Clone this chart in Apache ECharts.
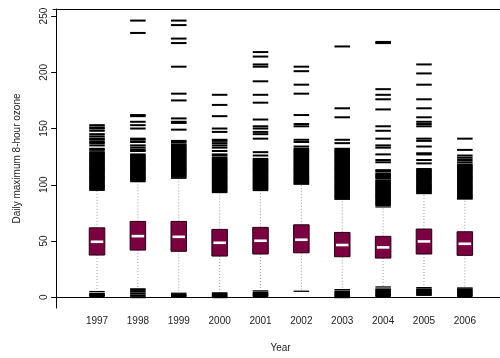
<!DOCTYPE html>
<html>
<head>
<meta charset="utf-8">
<script src="https://cdn.jsdelivr.net/npm/echarts/dist/echarts.min.js"></script>
<style>
  html, body { margin: 0; padding: 0; background: #fff; }
  #chart { width: 500px; height: 358px; }
</style>
</head>
<body>
<div id="chart"></div>
<script>
// Yearly distribution of daily maximum 8-hour ozone
const years = ['1997', '1998', '1999', '2000', '2001', '2002', '2003', '2004', '2005', '2006'];
const q1 = [37.5, 41.9, 40.8, 36.6, 38.4, 39.5, 36.0, 34.8, 38.4, 37.2];
const median = [49.3, 54.3, 53.7, 48.4, 50.2, 51.1, 46.4, 44.3, 49.6, 47.5];
const q3 = [61.7, 67.4, 67.4, 60.3, 62.1, 64.4, 57.6, 54.1, 60.6, 58.2];
const whiskerLow = [5.0, 7.4, 3.5, 3.8, 5.6, 5.3, 6.7, 9.1, 8.5, 8.2];
const whiskerHigh = [95.1, 102.8, 105.8, 93.1, 94.9, 100.7, 87.1, 80.3, 92.2, 87.4];

// Outlying days above the upper whisker, per year
const highOutliers = [
  [153,151,150,148,145,143,141,140,138,137,135,132,131,129,128,127,126,125,124,123,122,121,120,119,118,117,116,115,114,113,112,111,110,109,108,107,106,105,104,103,102,101,100,99,98,97,96],
  [246,235,162,161,156,153,150,141,140,138,135,133,131,130,127,126,125,124,123,122,121,120,119,118,117,116,115,114,113,112,111,110,109,108,107,106,105,104],
  [246,242,230,226,205,181,175,159,156,155,149,139,138,136,135,134,133,132,131,130,129,128,127,126,125,124,123,122,121,120,119,118,117,116,115,114,113,112,111,110,109,108,107],
  [180,171,161,150,147,140,139,137,135,133,130,127,126,124,123,122,121,120,119,118,117,116,115,114,113,112,111,110,109,108,107,106,105,104,103,102,101,100,99,98,97,96,95,94],
  [218,214,207,205,192,180,173,158,152,150,147,145,141,129,126,123,122,121,120,119,118,117,116,115,114,113,112,111,110,109,108,107,106,105,104,103,102,101,100,99,98,97,96],
  [205,201,189,181,162,154,152,140,138,134,132,131,130,129,128,127,126,125,124,123,122,121,120,119,118,117,116,115,114,113,112,111,110,109,108,107,106,105,104,103,102,101],
  [223,168,160,140,137,132,131,130,129,128,127,126,125,124,123,122,121,120,119,118,117,116,115,114,113,112,111,110,109,108,107,106,105,104,103,102,101,100,99,98,97,96,95,94,93,92,91,90,89,88],
  [227,226,185,180,176,167,152,148,141,135,133,127,122,120,113,112,110,109,108,107,106,104,103,102,101,100,99,98,97,96,95,94,93,92,91,90,89,88,87,86,85,84,83,82],
  [207,199,189,176,168,160,156,154,152,141,139,134,128,127,122,119,114,113,112,111,110,109,108,107,106,105,104,103,102,101,100,99,98,97,96,95,94,93],
  [141,131,126,124,122,120,118,117,116,115,114,113,112,111,110,109,108,107,106,105,104,103,102,101,100,99,98,97,96,95,94,93,92,91,90,89,88]
];
// Outlying days below the lower whisker, per year
const lowOutliers = [
  [3, 2, 1],
  [6.5, 5, 3.2, 1.4, 0],
  [2, 1],
  [3, 2, 1, 0],
  [4, 3, 2, 1],
  [],
  [5, 4, 3, 2, 1, 0],
  [7, 6, 5, 4, 3, 2, 1],
  [7, 6, 5, 4, 3, 2],
  [7, 6, 5, 4, 3, 2, 1]
];
const yTicks = [0, 50, 100, 150, 200, 250];
const yearPositions = [1, 2, 3, 4, 5, 6, 7, 8, 9, 10];

const boxData = years.map((y, i) => [yearPositions[i], q1[i], median[i], q3[i], whiskerLow[i], whiskerHigh[i]]);
const outlierData = [];
years.forEach((y, i) => {
  highOutliers[i].forEach(v => outlierData.push([yearPositions[i], v]));
  lowOutliers[i].forEach(v => outlierData.push([yearPositions[i], v]));
});

const BOX_HALF = 0.19; // half box width in x units
const FONT = '"Liberation Sans", Arial, Helvetica, sans-serif';
const X_MIN = -0.077, X_MAX = 10.86; // plot frame runs past the right edge of the canvas

function halfWidthPx(api, x) {
  return api.coord([x + BOX_HALF, 0])[0] - api.coord([x, 0])[0];
}

const frameLine = { show: true, lineStyle: { color: '#000', width: 1 } };

const chart = echarts.init(document.getElementById('chart'), null, { renderer: 'canvas' });
chart.setOption({
  animation: false,
  backgroundColor: '#ffffff',
  grid: { left: 53, right: 0, top: 9, bottom: 49, show: false },
  xAxis: [
    {
      type: 'value',
      min: X_MIN, max: X_MAX,
      name: 'Year', nameLocation: 'middle', nameGap: 35,
      nameTextStyle: { fontFamily: FONT, fontSize: 10, color: '#222', padding: [0, 0, 0, 8] },
      axisLine: frameLine,
      axisTick: { show: false },
      splitLine: { show: false },
      axisLabel: {
        customValues: yearPositions,
        formatter: v => years[Math.round(v) - 1],
        margin: 8, fontFamily: FONT, fontSize: 10, color: '#222'
      }
    },
    {
      type: 'value',
      position: 'top',
      min: X_MIN, max: X_MAX,
      axisLine: frameLine,
      axisTick: { show: false },
      axisLabel: { show: false },
      splitLine: { show: false }
    }
  ],
  yAxis: {
    type: 'value',
    min: -9.6, max: 256.3,
    name: 'Daily maximum 8-hour ozone', nameLocation: 'middle', nameGap: 31,
    nameTextStyle: { fontFamily: FONT, fontSize: 10, color: '#222' },
    axisLine: frameLine,
    splitLine: { show: false },
    axisTick: { show: true, inside: false, length: 5, customValues: yTicks, lineStyle: { color: '#000', width: 1 } },
    axisLabel: {
      customValues: yTicks, rotate: 90, margin: 4,
      fontFamily: FONT, fontSize: 10, color: '#222'
    }
  },
  series: [
    {
      type: 'custom',
      name: 'outliers',
      xAxisIndex: 0,
      data: outlierData,
      encode: { x: 0, y: 1 },
      clip: false,
      renderItem: function (params, api) {
        const x = api.value(0);
        const p = api.coord([x, api.value(1)]);
        const hw = halfWidthPx(api, x);
        return {
          type: 'line',
          shape: { x1: p[0] - hw, y1: p[1], x2: p[0] + hw, y2: p[1] },
          style: { stroke: '#000', lineWidth: 2 }
        };
      }
    },
    {
      type: 'custom',
      name: 'boxes',
      xAxisIndex: 0,
      data: boxData,
      encode: { x: 0, y: [1, 2, 3, 4, 5] },
      clip: false,
      renderItem: function (params, api) {
        const x = api.value(0);
        const pQ1 = api.coord([x, api.value(1)]);
        const pMed = api.coord([x, api.value(2)]);
        const pQ3 = api.coord([x, api.value(3)]);
        const pLo = api.coord([x, api.value(4)]);
        const pHi = api.coord([x, api.value(5)]);
        const hw = halfWidthPx(api, x);
        const cx = pQ1[0];
        const whisker = { stroke: '#9a9a9a', lineWidth: 1, lineDash: [1, 2] };
        const cap = { stroke: '#000', lineWidth: 1.3 };
        return {
          type: 'group',
          children: [
            { type: 'line', shape: { x1: cx, y1: pQ3[1], x2: cx, y2: pHi[1] }, style: whisker },
            { type: 'line', shape: { x1: cx, y1: pQ1[1], x2: cx, y2: pLo[1] }, style: whisker },
            { type: 'line', shape: { x1: cx - hw, y1: pHi[1], x2: cx + hw, y2: pHi[1] }, style: cap },
            { type: 'line', shape: { x1: cx - hw, y1: pLo[1], x2: cx + hw, y2: pLo[1] }, style: cap },
            {
              type: 'rect',
              shape: { x: cx - hw, y: pQ3[1], width: hw * 2, height: pQ1[1] - pQ3[1] },
              style: { fill: '#7a0041', stroke: '#25000f', lineWidth: 1 }
            },
            {
              type: 'line',
              shape: { x1: cx - hw + 1.5, y1: pMed[1], x2: cx + hw - 1.5, y2: pMed[1] },
              style: { stroke: '#ffffff', lineWidth: 2.6 }
            }
          ]
        };
      }
    }
  ]
});
</script>
</body>
</html>
